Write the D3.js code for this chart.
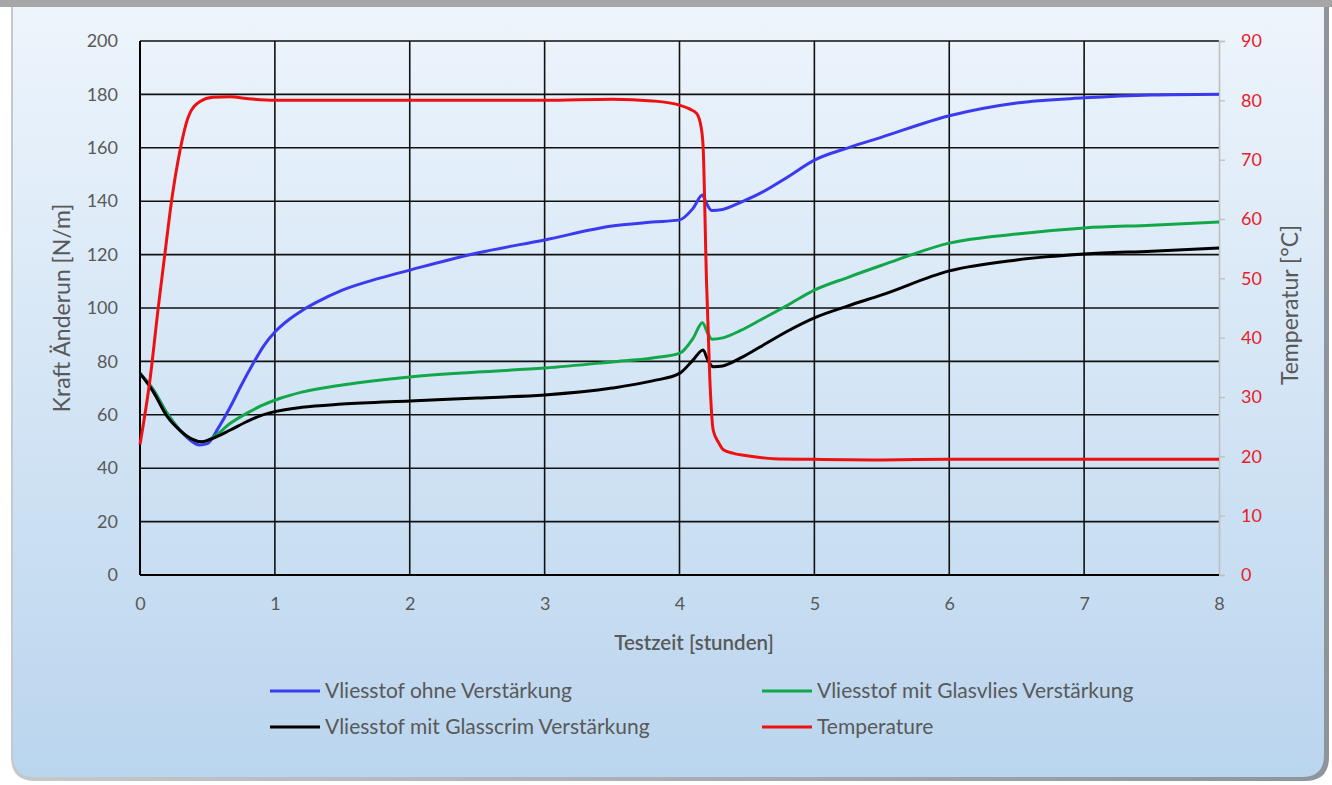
<!DOCTYPE html>
<html><head><meta charset="utf-8">
<script src="https://cdn.jsdelivr.net/npm/d3@7"></script>
<style>
html,body{margin:0;padding:0;background:#fff;}
svg{display:block;font-family:Lato,"Open Sans",sans-serif;}
</style></head>
<body>
<svg id="chart" width="1332" height="785"></svg>
<script>
// ---- Data ----
const xTicks = [0,1,2,3,4,5,6,7,8];
const yTicksLeft = [0,20,40,60,80,100,120,140,160,180,200];
const yTicksRight = [0,10,20,30,40,50,60,70,80,90];

const blueT = [0,0.1,0.2,0.3,0.38,0.44,0.5,0.58,0.67,0.75,0.84,0.92,1.0,1.1,1.2,1.3,1.5,1.75,2,2.5,3,3.5,3.8,4.0,4.1,4.17,4.2,4.24,4.32,4.45,4.6,4.8,5,5.25,5.5,6,6.5,7,7.5,8];
const blueV = [75.5,69.3,60.6,54,50.2,48.7,49.2,55,63,71,79.3,86,91,95.5,99,101.9,106.7,110.8,114.2,120.6,125.5,130.7,132.2,133,137.3,142.3,139.2,136.5,136.9,139.5,143,149,155.4,160,164,172,176.8,178.7,179.8,180.1];

const greenT = [0,0.1,0.2,0.3,0.38,0.46,0.54,0.67,0.8,0.9,1.04,1.2,1.5,2,2.5,3,3.5,3.8,4.0,4.1,4.17,4.21,4.24,4.32,4.45,4.6,4.8,5,5.25,5.5,6,6.5,7,7.5,8];
const greenV = [75.5,69.3,60.6,54,51,49.9,51.5,56.8,60.8,63.4,66.2,68.5,71.2,74.2,76,77.5,79.8,81.3,83,88.6,94.5,90.5,88.3,88.8,91.5,95.5,101,106.7,111.5,116,124.3,127.7,130,131,132.2];

const blackT = [0,0.1,0.2,0.3,0.38,0.46,0.54,0.67,0.79,0.9,1.0,1.2,1.5,2,2.5,3,3.5,3.8,4.0,4.1,4.175,4.21,4.25,4.32,4.45,4.6,4.8,5,5.25,5.5,6,6.5,7,7.5,8];
const blackV = [75.5,68.5,59.5,54,51,49.9,51.2,54.3,57.4,59.8,61.2,62.8,64,65.2,66.3,67.4,70,72.7,75.5,80.5,84.3,80.5,78,78.3,81.2,85.5,91.3,96.3,100.8,104.9,113.9,118,120.2,121.3,122.5];

const redT = [0,0.074,0.136,0.185,0.235,0.297,0.358,0.445,0.54,0.667,0.79,1.0,1.5,2,2.5,3,3.5,3.8,4.0,4.07,4.127,4.16,4.175,4.2,4.225,4.25,4.29,4.325,4.4,4.5,4.7,5,5.5,6,7,8];
const redV = [22,32.9,45.2,54.2,63.2,71.6,77.2,79.8,80.5,80.6,80.3,80.0,80.0,80.0,80.0,80.0,80.2,79.9,79.2,78.6,77.8,75.5,72.2,49.7,32.9,24.4,22.3,21.1,20.5,20.1,19.6,19.5,19.4,19.5,19.5,19.5];

const seriesNames = ["Vliesstof ohne Verstärkung","Vliesstof mit Glasvlies Verstärkung","Vliesstof mit Glasscrim Verstärkung","Temperature"];
const seriesColors = ["#3a3af0","#12a84a","#000000","#ee1111"];

// ---- Layout ----
const svg = d3.select("#chart");
const W = 1332, H = 785;
const L = 140, R = 1219, T = 41, B = 575;

const defs = svg.append("defs");
const grad = defs.append("linearGradient").attr("id","bg").attr("x1",0).attr("y1",0).attr("x2",0).attr("y2",1);
grad.append("stop").attr("offset","0%").attr("stop-color","#eef5fc");
grad.append("stop").attr("offset","100%").attr("stop-color","#bad5ee");
const edge = defs.append("linearGradient").attr("id","edge").attr("x1",0).attr("y1",0).attr("x2",1).attr("y2",0);
edge.append("stop").attr("offset","0%").attr("stop-color","#c4c9ce");
edge.append("stop").attr("offset","100%").attr("stop-color","#8d949b");

function roundedBottom(x0,y0,x1,y1,r){
  return `M${x0},${y0} L${x1},${y0} L${x1},${y1-r} Q${x1},${y1} ${x1-r},${y1} L${x0+r},${y1} Q${x0},${y1} ${x0},${y1-r} Z`;
}

// panel border + fill
svg.append("path").attr("d", roundedBottom(11, 0, 1329, 781, 24)).attr("fill","url(#edge)");
svg.append("path").attr("d", roundedBottom(13, 0, 1324, 777, 22)).attr("fill","url(#bg)");
// top gray bar
svg.append("rect").attr("x",0).attr("y",0).attr("width",W).attr("height",7).attr("fill","#a6a6a6");

// ---- Scales ----
const x = d3.scaleLinear().domain([0,8]).range([L,R]);
const yL = d3.scaleLinear().domain([0,200]).range([B,T]);
const yR = d3.scaleLinear().domain([0,90]).range([B,T]);

const textColor = "#595959";

// gridlines
const g = svg.append("g");
g.selectAll(".hg").data(yTicksLeft).join("line")
  .attr("x1",L).attr("x2",R).attr("y1",d=>yL(d)).attr("y2",d=>yL(d))
  .attr("stroke","#111").attr("stroke-width",1.6);
g.selectAll(".vg").data(xTicks.filter(d=>d<8)).join("line")
  .attr("x1",d=>x(d)).attr("x2",d=>x(d)).attr("y1",T).attr("y2",B)
  .attr("stroke","#111").attr("stroke-width",1.6);

// right axis line + ticks (gray)
const rAxis = svg.append("g").attr("transform",`translate(${R},0)`)
  .call(d3.axisRight(yR).tickValues(yTicksRight).tickSize(6).tickPadding(16).tickFormat(d3.format("d")));
rAxis.select(".domain").attr("stroke","#bfbfbf").attr("stroke-width",1.6);
rAxis.selectAll(".tick line").attr("stroke","#bfbfbf").attr("stroke-width",1.3);
rAxis.selectAll(".tick text").attr("fill","#e8202a").attr("font-size",18).attr("font-family","Lato, sans-serif");

// left axis labels
const lAxis = svg.append("g").attr("transform",`translate(${L},0)`)
  .call(d3.axisLeft(yL).tickValues(yTicksLeft).tickSize(0).tickPadding(22).tickFormat(d3.format("d")));
lAxis.select(".domain").remove();
lAxis.selectAll(".tick text").attr("fill",textColor).attr("font-size",18).attr("font-family","Lato, sans-serif");

// bottom axis labels
const bAxis = svg.append("g").attr("transform",`translate(0,${B})`)
  .call(d3.axisBottom(x).tickValues(xTicks).tickSize(0).tickPadding(22).tickFormat(d3.format("d")));
bAxis.select(".domain").remove();
bAxis.selectAll(".tick text").attr("fill",textColor).attr("font-size",18).attr("font-family","Lato, sans-serif");

// left / bottom axis line black
svg.append("line").attr("x1",L).attr("x2",L).attr("y1",T).attr("y2",B).attr("stroke","#000").attr("stroke-width",2);
svg.append("line").attr("x1",L).attr("x2",R).attr("y1",B).attr("y2",B).attr("stroke","#000").attr("stroke-width",2);

// titles
svg.append("text").attr("x",694).attr("y",650).attr("text-anchor","middle")
  .attr("fill",textColor).attr("font-size",20.5).attr("font-weight",600).text("Testzeit [stunden]");
svg.append("text").attr("transform",`translate(70,${(T+B)/2}) rotate(-90)`).attr("text-anchor","middle")
  .attr("fill",textColor).attr("font-size",23).text("Kraft Änderun [N/m]");
svg.append("text").attr("transform",`translate(1298,${(T+B)/2 - 3}) rotate(-90)`).attr("text-anchor","middle")
  .attr("fill",textColor).attr("font-size",23).text("Temperatur [°C]");

// ---- Lines ----
const lineL = d3.line().x(d=>x(d[0])).y(d=>yL(d[1])).curve(d3.curveMonotoneX);
const lineR = d3.line().x(d=>x(d[0])).y(d=>yR(d[1])).curve(d3.curveMonotoneX);
const zip = (a,b)=>a.map((t,i)=>[t,b[i]]);

const plot = svg.append("g");
plot.append("path").datum(zip(blueT,blueV)).attr("d",lineL).attr("fill","none").attr("stroke",seriesColors[0]).attr("stroke-width",3);
plot.append("path").datum(zip(greenT,greenV)).attr("d",lineL).attr("fill","none").attr("stroke",seriesColors[1]).attr("stroke-width",3);
plot.append("path").datum(zip(blackT,blackV)).attr("d",lineL).attr("fill","none").attr("stroke",seriesColors[2]).attr("stroke-width",3);
plot.append("path").datum(zip(redT,redV)).attr("d",lineR).attr("fill","none").attr("stroke",seriesColors[3]).attr("stroke-width",3);

// ---- Legend ----
const legPos = [[270,691],[762,691],[270,727],[762,727]];
const leg = svg.append("g");
seriesNames.forEach((n,i)=>{
  const [lx,ly] = legPos[i];
  leg.append("line").attr("x1",lx).attr("x2",lx+50).attr("y1",ly).attr("y2",ly)
    .attr("stroke",seriesColors[i]).attr("stroke-width",3);
  leg.append("text").attr("x",lx+55).attr("y",ly).attr("dy","0.35em")
    .attr("fill",textColor).attr("font-size",21).text(n);
});
</script>
</body></html>
